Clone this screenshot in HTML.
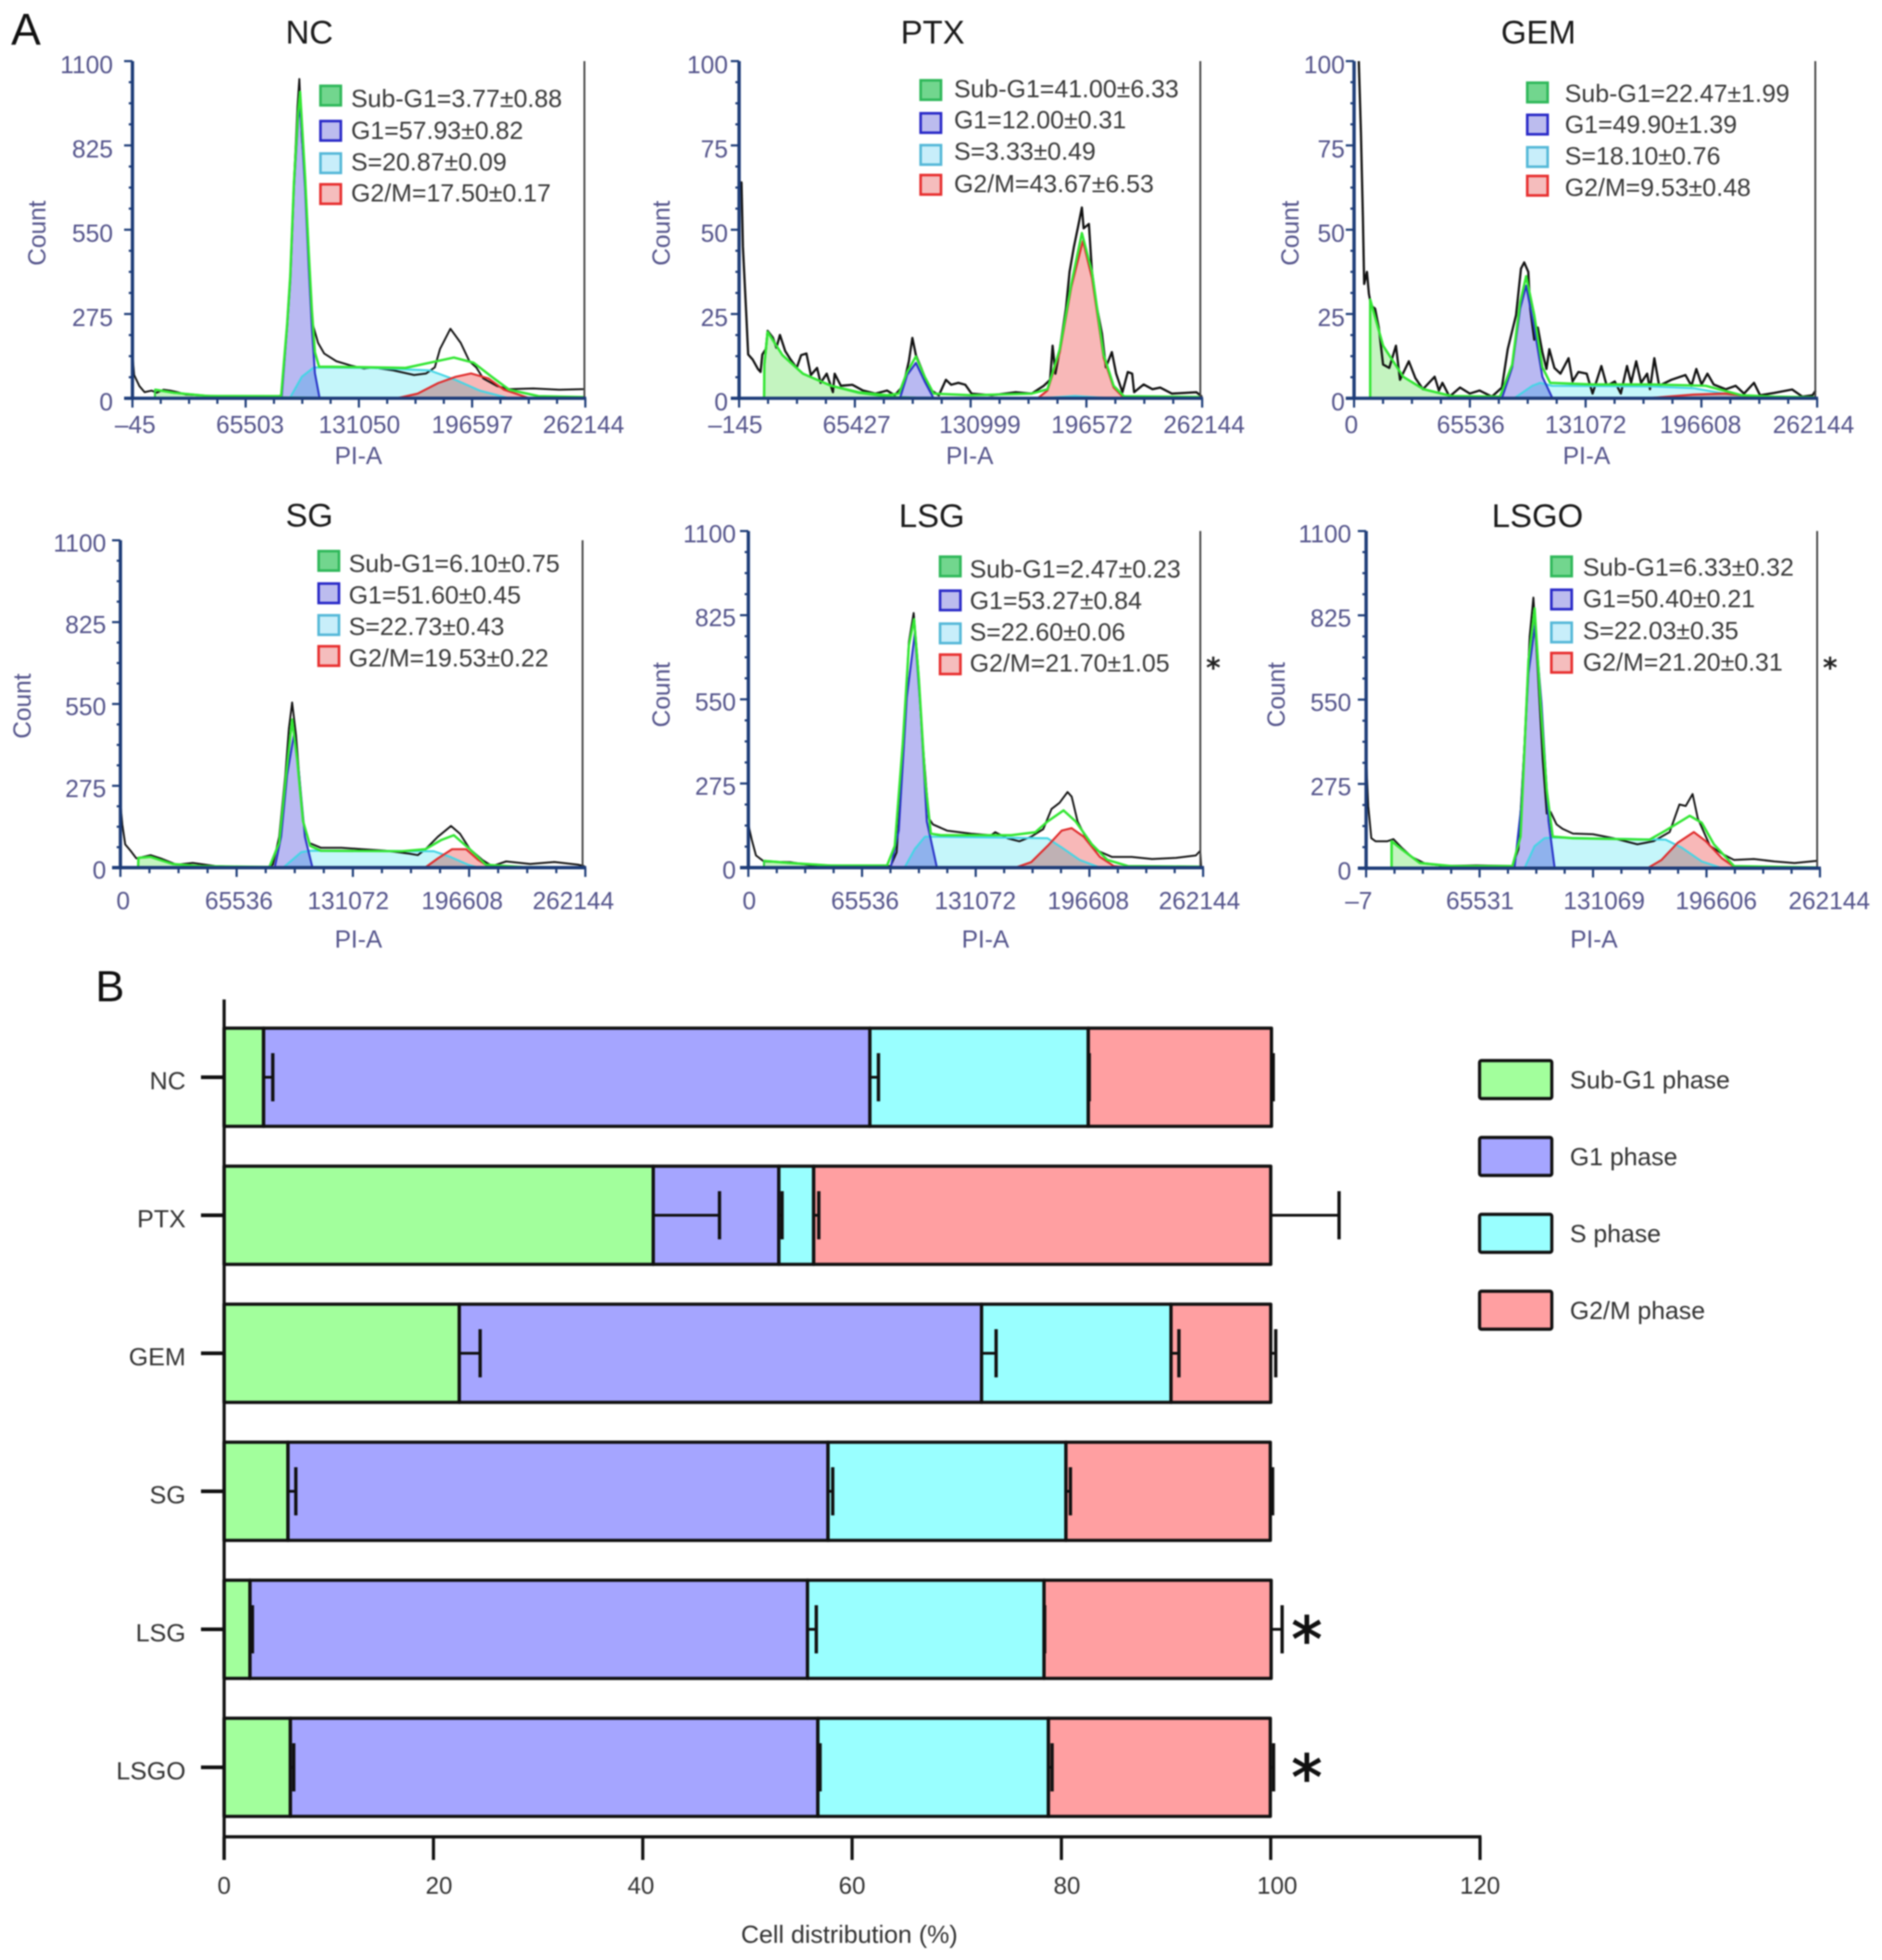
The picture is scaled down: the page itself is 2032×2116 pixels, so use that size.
<!DOCTYPE html>
<html lang="en">
<head>
<meta charset="utf-8">
<title>Cell cycle distribution</title>
<style>
html,body{margin:0;padding:0;background:#fff;}
body{width:2032px;height:2116px;overflow:hidden;}
svg{display:block;filter:blur(0.8px);}
text{font-family:"Liberation Sans",Arial,sans-serif;}
.fill{mix-blend-mode:multiply;}
</style>
</head>
<body>
<svg id="figure" xmlns="http://www.w3.org/2000/svg" width="2032" height="2116" viewBox="0 0 2032 2116">
  <rect x="0" y="0" width="2032" height="2116" fill="#ffffff"/>
  <text x="12" y="48" font-size="48" fill="#111">A</text>
  <text x="103" y="1081" font-size="47" fill="#111">B</text>
  <g id="histograms"></g>
  <g id="bars"></g>
</svg>
<script>
// ---------- shared phase values (percent) ----------
const groups = ["NC", "PTX", "GEM", "SG", "LSG", "LSGO"];
const subG1Values = [3.77, 41.00, 22.47, 6.10, 2.47, 6.33];
const g1Values = [57.93, 12.00, 49.90, 51.60, 53.27, 50.40];
const sValues = [20.87, 3.33, 18.10, 22.73, 22.60, 22.03];
const g2mValues = [17.50, 43.67, 9.53, 19.53, 21.70, 21.20];
const subG1Errors = [0.88, 6.33, 1.99, 0.75, 0.23, 0.32];
const g1Errors = [0.82, 0.31, 1.39, 0.45, 0.84, 0.21];
const sErrors = [0.09, 0.49, 0.76, 0.43, 0.06, 0.35];
const g2mErrors = [0.17, 6.53, 0.48, 0.22, 1.05, 0.31];
const barAxisTicks = [0, 20, 40, 60, 80, 100, 120];
const significantGroups = ["LSG", "LSGO"];

// ---------- histogram axis ticks ----------
const countTicksLarge = [0, 275, 550, 825, 1100];
const countTicksSmall = [0, 25, 50, 75, 100];
const ncXTicks = [-45, 65503, 131050, 196597, 262144];
const ptxXTicks = [-145, 65427, 130999, 196572, 262144];
const gemXTicks = [0, 65536, 131072, 196608, 262144];
const sgXTicks = [0, 65536, 131072, 196608, 262144];
const lsgXTicks = [0, 65536, 131072, 196608, 262144];
const lsgoXTicks = [-7, 65531, 131069, 196606, 262144];

// ---------- histogram series: [PI-A in thousands, count] ----------
const ncBlack = [[0,141],[1,76],[4,40],[7,20],[11,25],[14,18],[18,28],[22,25],[26,20],[31,12],[38,10],[48,7],[67,5],[84,6],[86.3,10],[89.5,240],[91.3,400],[93.4,700],[95.5,950],[96.6,1042],[98,850],[99.9,720],[102,480],[103.8,252],[107.4,181],[111,146],[118,121],[127,106],[134,97],[139,101],[151,91],[163,76],[170,81],[175,101],[178,161],[184,227],[190,181],[195,121],[199,101],[203,65],[211,40],[218,30],[232,32],[247,28],[261,30]];
const ncTotal = [[13,28],[24,18],[43,8],[86,7],[89.5,240],[91.3,400],[93.4,700],[95.8,930],[97,1000],[99.9,720],[102,480],[103.8,290],[105.6,150],[108,103],[115,103],[139,101],[158,99],[172,116],[186,133],[197.5,116],[208,70],[218,28],[235,7],[261,4]];
const ncSubG1 = [[13,0],[13,28],[24,18],[43,8],[86,3],[120,0]];
const ncG1 = [[86.3,0],[89.5,233],[91.3,384],[93.4,686],[95.8,907],[97,957],[99.9,686],[102,432],[103.8,233],[105.6,82],[108.3,0]];
const ncS = [[91,0],[98,70],[105,101],[139,99],[172,91],[187,60],[201,25],[218,0]];
const ncG2 = [[153,0],[165,15],[177,50],[187,70],[196,81],[206,65],[215,28],[230,0]];

const ptxBlack = [[0,64],[1.2,64],[2,45],[4,24],[5,13],[7.5,11.5],[10.5,8.7],[12,7.8],[13,13],[15,14.6],[16,20],[19,18],[21,15],[23,18.8],[26,14],[29,11.5],[32.5,9],[35,12.8],[38,13.3],[40.5,6.9],[44,9],[46,4.6],[49.5,7.3],[53,1.8],[54,7.3],[57.5,3.7],[64,4],[70,2.3],[77,1.4],[83.7,2.3],[88,0.9],[92.8,3.7],[96,11],[98,17.9],[100,12.8],[103,9],[107.6,2.7],[113,0.9],[117,5.5],[120,4],[124,4.6],[128,4],[131.5,1.4],[143,0.9],[156.5,1.8],[165.6,1.4],[172.4,3.7],[176,5.5],[177.4,15.6],[179,7.3],[181.5,14.6],[185,26.6],[187,37.5],[189.5,44.9],[192,51.3],[194,56.6],[195,50.4],[198,51.7],[199.7,37.5],[202,28.4],[205.4,19.2],[207.6,9.2],[211,13.7],[213.4,7.3],[217,1.8],[220,7.8],[222.5,7.3],[223.6,1.8],[229,4.1],[234,2.7],[238.4,3.2],[245,1.4],[252,1.6],[258.9,1.8],[262,0.5]];
const ptxTotal = [[14,0],[14.2,10],[16,19.7],[24.4,12.8],[36,7.3],[52,3.7],[67.6,1.8],[83.6,0.9],[90.4,1.4],[95,7.8],[100,12.4],[105,6.4],[110,1.4],[131.5,0.9],[165.6,1.4],[174.5,2.7],[181.5,14.6],[188,33.9],[194,49],[199.7,37.5],[206.4,12.8],[212,3.7],[217.8,0.6],[261,0.4]];
const ptxSubG1 = [[14,0],[14.2,10],[16,19.7],[24.4,12.8],[36,7.3],[52,3.7],[67.6,1.6],[83.6,0.5],[100,0.2],[130,0]];
const ptxG1 = [[91,0],[95,6.9],[100,10.5],[105,5],[110,0]];
const ptxS = [[170,0],[190,0.7],[210,0]];
const ptxG2 = [[169,0],[174.5,2.3],[181.5,13.7],[188,33],[194.6,46.7],[199.7,35.7],[206.4,11.9],[212,3.2],[218,0]];

const gemBlack = [[2.7,100],[3.9,78.8],[5,54],[5.7,33.9],[7.3,37.5],[8.4,31],[9.6,27.5],[11.9,26.6],[14,21],[16.4,10],[19.9,9],[23.7,15.6],[26,5.5],[31,11],[34.7,6],[39,2.7],[45.6,6.4],[48,2.3],[50,4.6],[54,0.5],[60,3.2],[65.5,1.4],[71,2.3],[78,0.5],[83.7,3.2],[87,14.6],[91.7,24.7],[94.5,38.5],[96.3,40.3],[98.6,37.5],[99.7,26.6],[102,17.4],[104,21],[106.6,13.7],[108.9,8.7],[110.5,14.6],[113.4,9],[116.8,7.3],[121.4,11.9],[123.7,5],[127,7.8],[131.7,7.3],[135,1.4],[140,9.6],[143,3.7],[147.6,5],[151,1.4],[154.5,9.6],[156.8,4.6],[159.7,11],[162.5,4.6],[165.9,7.3],[167.5,2.7],[170,11.9],[172.7,3.7],[179.6,5.5],[187.6,6.9],[191,3.7],[193.7,8.7],[196.7,4.1],[200,7.3],[203.6,4.1],[210.4,2.7],[216,3.7],[220.7,1.4],[226.4,4.6],[229.8,0.9],[237.8,1.6],[248,2.6],[253.8,0.5],[259.5,0.9],[261.3,2.3]];
const gemTotal = [[9.1,0],[9.1,29.3],[16.4,15.6],[27.8,6.4],[39.3,2.7],[55.2,0.7],[82.6,0.5],[89.5,10],[94,28.4],[97.4,36.2],[102,24.7],[106.6,9.2],[111,4.6],[135,4.1],[169,4.1],[199,3.7],[219.5,0.9],[237.8,0.5],[260.6,0.3]];
const gemSubG1 = [[9.1,0],[9.1,29.3],[16.4,15.6],[27.8,6.4],[39.3,2.7],[55.2,0.6],[82,0.1]];
const gemG1 = [[83.7,0],[89.5,9.2],[94,26.6],[97.4,33.4],[102,21],[106.6,6.4],[112.3,0]];
const gemS = [[90.6,0],[100.9,3.7],[105.4,4.6],[112,3.7],[169,3.5],[192,3],[210,1.4],[228.7,0]];
const gemG2 = [[166,0],[192,1.1],[210,1.4],[233,0]];

const sgBlack = [[0,218],[1.1,145],[2.7,78],[5.7,57],[9,31],[17,42],[22.7,31],[31.7,10],[40.8,16],[54,5],[68,2],[82.7,0],[86,10],[89.5,104],[93,311],[95,467],[96.8,555],[99,446],[100.8,311],[103,156],[106.5,83],[113,67],[124.6,67],[136,62],[149.6,57],[163,47],[167.7,42],[172,62],[179,104],[186.4,140],[191.5,114],[197,62],[204,26],[209.6,5],[217.5,21],[231,12],[244.7,19],[258,10],[261.7,5]];
const sgTotal = [[10,0],[10.2,33],[17,36],[29.5,12],[45,5],[84,2],[89.5,83],[93.4,311],[96.8,498],[99.7,363],[103,156],[107,73],[113,57],[158.6,55],[172,62],[181,93],[188,109],[197,62],[206,10],[226.6,2],[260.6,1]];
const sgSubG1 = [[10,0],[10.2,33],[17,36],[29.5,12],[45,5],[84,0.5]];
const sgG1 = [[87,0],[90.6,104],[94,311],[97.9,451],[100.8,311],[104,104],[108.3,0]];
const sgS = [[91.8,0],[102,52],[107.6,57],[176.7,55],[186,36],[196,10],[201.7,0]];
const sgG2 = [[171.8,0],[179,31],[187,62],[194.9,62],[201.7,26],[208.5,0]];

const lsgBlack = [[0,141],[2,91],[4.4,40],[9,20],[24,18],[35.7,8],[58.9,5],[82,5],[85.5,50],[89,353],[92.5,737],[95.3,832],[97.8,656],[100.6,404],[104,161],[106.4,141],[114.5,121],[128.4,111],[140,106],[142.3,116],[149.3,96],[156.2,86],[163,101],[170,126],[174.8,192],[179.4,212],[184,247],[186.4,232],[189.8,151],[195.6,86],[201.4,55],[209.5,35],[221,35],[232.7,28],[246.6,32],[258,40],[260.5,55],[261,5]];
const lsgTotal = [[9,22],[24,15],[47,7],[80,7],[84.4,71],[89,404],[92.5,726],[95.5,812],[98.3,615],[101.8,293],[105.2,111],[111,106],[151.6,106],[165.5,116],[172.5,151],[181.7,187],[188.7,151],[198,76],[207,25],[218.8,5],[260.5,3]];
const lsgSubG1 = [[9,0],[9,22],[24,15],[47,7],[80,2],[100,0]];
const lsgG1 = [[82,0],[86.7,121],[91.3,555],[96,767],[99.4,505],[102.9,151],[108.7,0]];
const lsgS = [[90,0],[96,61],[101.8,101],[106.4,101],[172.5,96],[180.6,66],[191,25],[202.6,0]];
const lsgG2 = [[154,0],[163,18],[172.5,71],[180.6,121],[186.4,129],[193.3,101],[202.6,35],[210.7,5],[218.8,0]];

const lsgoBlack = [[0,365],[1.2,203],[3,98],[5.4,88],[12.3,88],[15.8,95],[20.5,67],[26.3,37],[33.3,17],[45,7],[63.6,9],[84.5,7],[88,62],[91.5,405],[94.5,757],[96.6,883],[99,657],[102,354],[104.3,178],[106.6,183],[110,143],[113.6,128],[119.4,113],[131,111],[142.7,98],[156.7,78],[166,88],[175.3,118],[181,208],[184.6,203],[188.6,242],[191.6,163],[198.6,73],[205.6,47],[212.5,27],[224,30],[235.8,22],[247.5,17],[260.3,24]];
const lsgoTotal = [[14.7,0],[14.7,88],[20.5,62],[31,17],[49.6,7],[84.5,7],[89.2,103],[93.8,677],[97.3,848],[100.8,536],[104.3,254],[107.8,103],[119.4,98],[163.7,93],[173,123],[187,171],[193.9,148],[200.9,78],[212.5,7],[261,2]];
const lsgoSubG1 = [[14.7,0],[14.7,88],[20.5,62],[31,17],[49.6,5],[84,0]];
const lsgoG1 = [[85.7,0],[89.6,203],[93.8,636],[97.5,792],[101.3,536],[105.4,153],[108.9,0]];
const lsgoS = [[91.5,0],[97.3,72],[103.1,98],[108.9,100],[173,93],[182.3,67],[193.9,22],[205.6,0]];
const lsgoG2 = [[162.5,0],[170.6,27],[180,83],[189.3,118],[196.3,88],[205.6,32],[213.7,0]];

// ---------- layout (pixels) ----------
const panelLayouts = [
 {id:"nc",title:"NC",left:143,right:632,line:631,top:66,bottom:430,blackW:2,titleX:334,titleY:47,yLabelX:122,yLabelDy:13,xLabelX:[146,270,388,510,630],xLabelY:467.5,xTitleX:387,xTitleY:501,countX:49,countY:251.7,swX:346,swY:[92.7,130.7,165.7,199],txtX:379,txtY:[115.7,150,184,217.3],star:null,yTicks:countTicksLarge,xTicks:ncXTicks,black:ncBlack,total:ncTotal,sub:ncSubG1,g1:ncG1,s:ncS,g2:ncG2},
 {id:"ptx",title:"PTX",left:798,right:1298,line:1296,top:66,bottom:430,blackW:2.4,titleX:1007,titleY:47,yLabelX:786,yLabelDy:13,xLabelX:[794,925,1058,1179,1300],xLabelY:467.5,xTitleX:1047,xTitleY:501,countX:723,countY:251.7,swX:994,swY:[86.7,122.3,156.7,189],txtX:1030,txtY:[105,138.3,172.7,207.3],star:null,yTicks:countTicksSmall,xTicks:ptxXTicks,black:ptxBlack,total:ptxTotal,sub:ptxSubG1,g1:ptxG1,s:ptxS,g2:ptxG2},
 {id:"gem",title:"GEM",left:1462,right:1962,line:1960,top:66,bottom:430,blackW:2.4,titleX:1661,titleY:47,yLabelX:1452,yLabelDy:13,xLabelX:[1459,1588,1712,1836,1958],xLabelY:467.5,xTitleX:1713,xTitleY:501,countX:1402,countY:251.7,swX:1649,swY:[89.3,124,159,190],txtX:1689.5,txtY:[110,143.3,177.3,211.7],star:null,yTicks:countTicksSmall,xTicks:gemXTicks,black:gemBlack,total:gemTotal,sub:gemSubG1,g1:gemG1,s:gemS,g2:gemG2},
 {id:"sg",title:"SG",left:130,right:632,line:629,top:583.3,bottom:936.7,blackW:2,titleX:334,titleY:568.3,yLabelX:114.6,yLabelDy:12,xLabelX:[133,258,376,499,619],xLabelY:981.5,xTitleX:387,xTitleY:1023,countX:33,countY:762.3,swX:344,swY:[595,630,664.3,697.7],txtX:376.5,txtY:[617.3,651.7,685.7,719.3],star:null,yTicks:countTicksLarge,xTicks:sgXTicks,black:sgBlack,total:sgTotal,sub:sgSubG1,g1:sgG1,s:sgS,g2:sgG2},
 {id:"lsg",title:"LSG",left:808,right:1299,line:1296,top:573.3,bottom:936.7,blackW:2,titleX:1006,titleY:569,yLabelX:794.6,yLabelDy:12,xLabelX:[809,934,1053,1175,1295],xLabelY:981.5,xTitleX:1064,xTitleY:1023,countX:723,countY:750,swX:1015,swY:[601,637.7,673.3,706.7],txtX:1047,txtY:[623.3,657.3,691.7,725],star:[1310,716.7],yTicks:countTicksLarge,xTicks:lsgXTicks,black:lsgBlack,total:lsgTotal,sub:lsgSubG1,g1:lsgG1,s:lsgS,g2:lsgG2},
 {id:"lsgo",title:"LSGO",left:1475,right:1965,line:1962,top:573.3,bottom:937.3,blackW:2,titleX:1660,titleY:569,yLabelX:1459,yLabelDy:12,xLabelX:[1467,1598,1732,1853,1975],xLabelY:981.5,xTitleX:1721,xTitleY:1023,countX:1387,countY:750,swX:1675,swY:[601,636.7,672.3,705],txtX:1709,txtY:[621.7,655.7,690,724],star:[1976,716.7],yTicks:countTicksLarge,xTicks:lsgoXTicks,black:lsgoBlack,total:lsgoTotal,sub:lsgoSubG1,g1:lsgoG1,s:lsgoS,g2:lsgoG2}
];
const phaseStyles = [
 {key:"sub",label:"Sub-G1",stroke:"#2fd83f",fill:"#c4f4c0",swStroke:"#2fb85a",swFill:"#72d68e"},
 {key:"g1",label:"G1",stroke:"#2a35c8",fill:"#b9b9f2",swStroke:"#2a2ac8",swFill:"#bcbcee"},
 {key:"s",label:"S",stroke:"#45d5e5",fill:"#c5f6fa",swStroke:"#55b8d8",swFill:"#c8eefa"},
 {key:"g2",label:"G2/M",stroke:"#e02c2c",fill:"#f8b8b8",swStroke:"#e83030",swFill:"#f5bdbd"}
];
const phaseValueTables = [[subG1Values,subG1Errors],[g1Values,g1Errors],[sValues,sErrors],[g2mValues,g2mErrors]];
const barColors = ["#a2ff9c","#a5a5ff","#99ffff","#ff9fa1"];
const barPhaseNames = ["Sub-G1 phase","G1 phase","S phase","G2/M phase"];
const barLegendY = [1145,1228,1311,1394];
const barTickNudge = [0,6,-2,0,6,7,0];

const NS = "http://www.w3.org/2000/svg";
const AXIS = "#1d3c78", LABEL = "#55558c";

function mk(tag, attrs, parent, text){
  const el = document.createElementNS(NS, tag);
  for (const k in attrs) el.setAttribute(k, attrs[k]);
  if (text !== undefined) el.textContent = text;
  parent.appendChild(el);
  return el;
}

function drawPanel(p, idx){
  const root = document.getElementById("histograms");
  const g = mk("g", {}, root);
  
  
  const xMin = p.xTicks[0], xMax = p.xTicks[p.xTicks.length-1];
  const yMax = p.yTicks[p.yTicks.length-1];
  const xs = v => p.left + (v - xMin) / (xMax - xMin) * (p.right - p.left);
  const xk = k => xs(k * 1000);
  const ys = c => p.bottom - c / yMax * (p.bottom - p.top);
  const pts = arr => arr.map(d => xk(d[0]).toFixed(1) + "," + ys(d[1]).toFixed(1)).join(" ");

  let el = mk("text", {x:p.titleX,y:p.titleY,"font-size":35.5,fill:"#1a1a1a","text-anchor":"middle"}, g, p.title);
  
  

  // phase fills
  ["s","g2","g1","sub"].forEach(function(key){
    const st = phaseStyles.find(s => s.key === key);
    const arr = p[key];
    const poly = pts(arr) + " " + xk(arr[arr.length-1][0]).toFixed(1) + "," + p.bottom + " " + xk(arr[0][0]).toFixed(1) + "," + p.bottom;
    const f = mk("polygon", {points:poly,fill:st.fill,stroke:"none",class:"fill"}, g);
    
    
  });

  // measured histogram
  el = mk("polyline", {points:pts(p.black),fill:"none",stroke:"#111","stroke-width":p.blackW,"stroke-linejoin":"round"}, g);
  
  

  // phase outlines
  ["s","g2","sub","g1"].forEach(function(key){
    const st = phaseStyles.find(s => s.key === key);
    const l = mk("polyline", {points:pts(p[key]),fill:"none",stroke:st.stroke,"stroke-width":2.2,"stroke-linejoin":"round"}, g);
    
    
  });

  // overall fit
  el = mk("polyline", {points:pts(p.total),fill:"none",stroke:"#33e633","stroke-width":2.6,"stroke-linejoin":"round"}, g);
  
  

  // right boundary
  el = mk("line", {x1:p.line,x2:p.line,y1:p.top,y2:p.bottom,stroke:"#444","stroke-width":2}, g);
  
  

  // axes
  el = mk("line", {x1:p.left,x2:p.left,y1:p.top,y2:p.bottom+1.5,stroke:AXIS,"stroke-width":3.6}, g);
  
  
  el = mk("line", {x1:p.left-9,x2:p.right+1,y1:p.bottom,y2:p.bottom,stroke:AXIS,"stroke-width":3.6}, g);
  
  

  // y ticks and labels
  for (let i = 0; i < p.yTicks.length - 1; i++){
    for (let j = 0; j < 4; j++){
      const v = p.yTicks[i] + (p.yTicks[i+1] - p.yTicks[i]) * j / 4;
      const t = mk("line", {x1:p.left-(j===0?9:4),x2:p.left,y1:ys(v),y2:ys(v),stroke:AXIS,"stroke-width":2.3}, g);
      
      
    }
  }
  el = mk("line", {x1:p.left-9,x2:p.left,y1:p.top,y2:p.top,stroke:AXIS,"stroke-width":2.3}, g);
  
  
  p.yTicks.forEach(function(v){
    const t = mk("text", {x:p.yLabelX,y:ys(v)+p.yLabelDy,"font-size":26.5,fill:LABEL,"text-anchor":"end"}, g, String(v));
    
    
  });

  // x ticks and labels
  for (let i = 0; i < p.xTicks.length - 1; i++){
    for (let j = 0; j < 4; j++){
      const v = p.xTicks[i] + (p.xTicks[i+1] - p.xTicks[i]) * j / 4;
      const t = mk("line", {x1:xs(v),x2:xs(v),y1:p.bottom,y2:p.bottom+(j===0?10:6),stroke:AXIS,"stroke-width":2.3}, g);
      
      
    }
  }
  el = mk("line", {x1:p.right,x2:p.right,y1:p.bottom,y2:p.bottom+10,stroke:AXIS,"stroke-width":2.3}, g);
  
  
  p.xTicks.forEach(function(v, i){
    const label = String(v).replace("-", "\u2013");
    const t = mk("text", {x:p.xLabelX[i],y:p.xLabelY,"font-size":26.4,fill:LABEL,"text-anchor":"middle"}, g, label);
    
    
  });

  el = mk("text", {x:p.xTitleX,y:p.xTitleY,"font-size":26.4,fill:LABEL,"text-anchor":"middle"}, g, "PI-A");
  
  
  el = mk("text", {x:p.countX,y:p.countY,"font-size":26.4,fill:LABEL,"text-anchor":"middle",transform:"rotate(-90 "+p.countX+" "+p.countY+")"}, g, "Count");
  
  

  // legend
  phaseStyles.forEach(function(st, i){
    const r = mk("rect", {x:p.swX,y:p.swY[i],width:22,height:21,fill:st.swFill,stroke:st.swStroke,"stroke-width":2.8}, g);
    
    
    const val = phaseValueTables[i][0][idx].toFixed(2) + "\u00b1" + phaseValueTables[i][1][idx].toFixed(2);
    const t = mk("text", {x:p.txtX,y:p.txtY[i],"font-size":26.9,fill:"#3a3a3a"}, g, st.label + "=" + val);
    
    
  });

  if (p.star){
    const s = mk("text", {x:p.star[0],y:p.star[1]+15,"font-size":30,fill:"#222","text-anchor":"middle","style":"font-family:'DejaVu Sans',sans-serif;font-weight:bold"}, g, "*");
    
    
  }
}
panelLayouts.forEach(drawPanel);

// ---------- stacked bar chart ----------
(function drawBars(){
  const root = document.getElementById("bars");
  const x = v => 242 + v * 11.3;
  const yc = i => 1163 + i * 149;
  const H = 106, INK = "#111";
  const series = [subG1Values, g1Values, sValues, g2mValues];
  const errors = [subG1Errors, g1Errors, sErrors, g2mErrors];

  groups.forEach(function(name, i){
    const cy = yc(i);
    let cum = 0;
    series.forEach(function(vals, s){
      const r = mk("rect", {x:x(cum),y:cy-H/2,width:vals[i]*11.3,height:H,fill:barColors[s],stroke:INK,"stroke-width":3.6,"stroke-linejoin":"round"}, root);
      
      
      cum += vals[i];
    });
    cum = 0;
    series.forEach(function(vals, s){
      cum += vals[i];
      const tipX = x(cum + errors[s][i]);
      const stem = mk("line", {x1:x(cum),x2:tipX,y1:cy,y2:cy,stroke:INK,"stroke-width":3}, root);
      
      
      const cap = mk("line", {x1:tipX,x2:tipX,y1:cy-26,y2:cy+26,stroke:INK,"stroke-width":3.6}, root);
      
      
    });
    const t = mk("line", {x1:217,x2:242,y1:cy,y2:cy,stroke:INK,"stroke-width":4}, root);
    
    
    const lab = mk("text", {x:200.5,y:cy+13,"font-size":27,fill:"#333","text-anchor":"end"}, root, name);
    
    
    if (significantGroups.indexOf(name) !== -1){
      const s = mk("text", {x:1411,y:cy+34,"font-size":66,fill:"#111",stroke:"#111","stroke-width":1.4,"text-anchor":"middle","style":"font-family:'DejaVu Sans',sans-serif"}, root, "*");
      
      
    }
  });

  let el = mk("line", {x1:242,x2:242,y1:1079,y2:2008,stroke:INK,"stroke-width":3.4}, root);
  
  
  el = mk("line", {x1:240.5,x2:x(120)+1.5,y1:1983,y2:1983,stroke:INK,"stroke-width":3.6}, root);
  
  
  barAxisTicks.forEach(function(v, i){
    const t = mk("line", {x1:x(v),x2:x(v),y1:1983,y2:2008,stroke:INK,"stroke-width":3.4}, root);
    
    
    const l = mk("text", {x:x(v)+barTickNudge[i],y:2044.5,"font-size":26,fill:"#333","text-anchor":"middle"}, root, String(v));
    
    
  });
  el = mk("text", {x:917,y:2097.5,"font-size":27,fill:"#333","text-anchor":"middle"}, root, "Cell distribution (%)");
  
  

  barPhaseNames.forEach(function(n, i){
    const r = mk("rect", {x:1597.5,y:barLegendY[i],width:78,height:41,rx:2,fill:barColors[i],stroke:INK,"stroke-width":3.4}, root);
    
    
    const t = mk("text", {x:1695,y:barLegendY[i]+30,"font-size":26.8,fill:"#333"}, root, n);
    
    
  });
})();
</script>
</body>
</html>
